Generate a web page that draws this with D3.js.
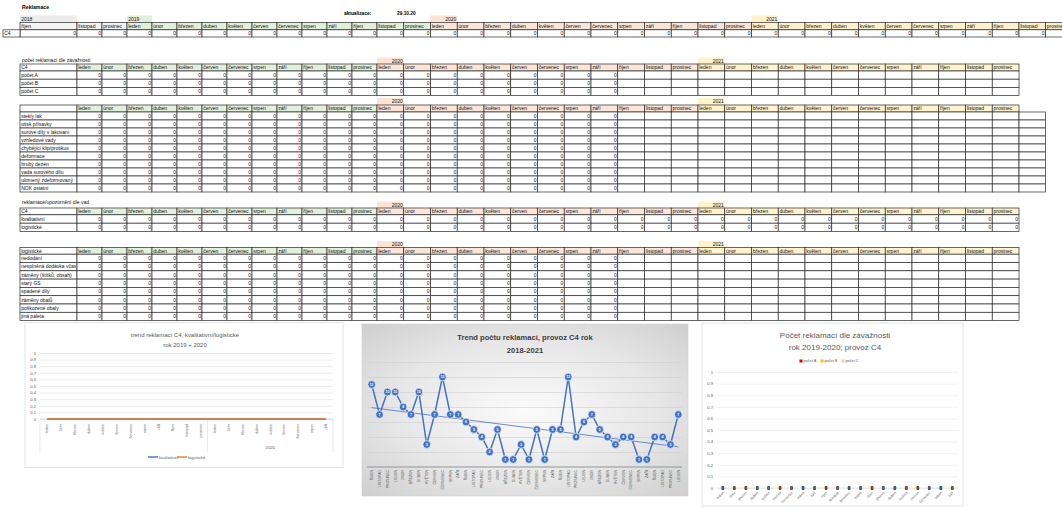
<!DOCTYPE html>
<html>
<head>
<meta charset="utf-8">
<script src="https://cdn.jsdelivr.net/npm/d3@7"></script>
<style>
body { margin: 0; background: #fff; }
svg { display: block; font-family: "Liberation Sans", Arial, sans-serif; }
</style>
</head>
<body>
<svg id="chart" width="1062" height="508"></svg>
<script>
// ---- data ----
var months = ["leden","únor","březen","duben","květen","červen","červenec","srpen","září","říjen","listopad","prosinec"];
var months2018 = ["říjen","listopad","prosinec"];
var years = ["2019","2020","2021"];
var updated = "29.10.20";

// top row C4: říjen 2018 .. prosinec 2021
var topValues = [0,0,0, 0,0,0,0,0,0,0,0,0,0,0,0, 0,0,0,0,0,0,0,0,0,0,0,0, 0,0,0,0,0,0,0,0,0,0,0,0];

var severityRows = ["počet A","počet B","počet C"];
var severityValues = [0,0,0,0,0,0,0,0,0,0,0,0, 0,0,0,0,0,0,0,0,0];   // leden 2019 .. září 2020

var defectRows = ["stekly lak","otisk přísavky","surové díly v lakovaní","vzhledové vady","chybějící klip/protikus",
                  "deformace","hrubý dezén","vada surového dílu","ulomený zdeformovaný","NOK ostatní"];
var defectValues = [0,0,0,0,0,0,0,0,0,0,0,0, 0,0,0,0,0,0,0,0,0];

var typeRows = ["kvalitativní","logistické"];
var typeValues = [0,0,0,0,0,0,0,0,0,0,0,0, 0,0,0,0,0,0,0,0,0,0,0,0, 0,0,0,0,0,0,0,0,0,0,0,0];

var logisticRows = ["nedodání","nesplněná dodávka včas","záměny (štítků, obsah)","starý GS","spadené díly",
                    "záměny obalů","poškozené obaly","jiná paleta"];
var logisticValues = [0,0,0,0,0,0,0,0,0,0,0,0, 0,0,0,0,0,0,0,0,0];

// chart 1 and 3: leden 2019 .. září 2020
var catMonths = ["leden","únor","březen","duben","květen","červen","červenec","srpen","září","říjen","listopad","prosinec",
                 "leden","únor","březen","duben","květen","červen","červenec","srpen","září"];
var kvalitativni = [0,0,0,0,0,0,0,0,0,0,0,0, 0,0,0,0,0,0,0,0,0];
var logisticke   = [0,0,0,0,0,0,0,0,0,0,0,0, 0,0,0,0,0,0,0,0,0];
var pocetA = [0,0,0,0,0,0,0,0,0,0,0,0, 0,0,0,0,0,0,0,0,0];
var pocetB = [0,0,0,0,0,0,0,0,0,0,0,0, 0,0,0,0,0,0,0,0,0];
var pocetC = [0,0,0,0,0,0,0,0,0,0,0,0, 0,0,0,0,0,0,0,0,0];
var ticks01 = [0,0.1,0.2,0.3,0.4,0.5,0.6,0.7,0.8,0.9,1];

// chart 2: říjen 2018 .. leden 2022
var trendLabels = ["ŘÍJEN","LISTOPAD","PROSINEC",
  "LEDEN","ÚNOR","BŘEZEN","DUBEN","KVĚTEN","ČERVEN","ČERVENEC","SRPEN","ZÁŘÍ","ŘÍJEN","LISTOPAD","PROSINEC",
  "LEDEN","ÚNOR","BŘEZEN","DUBEN","KVĚTEN","ČERVEN","ČERVENEC","SRPEN","ZÁŘÍ","ŘÍJEN","LISTOPAD","PROSINEC",
  "LEDEN","ÚNOR","BŘEZEN","DUBEN","KVĚTEN","ČERVEN","ČERVENEC","SRPEN","ZÁŘÍ","ŘÍJEN","LISTOPAD","PROSINEC",
  "LEDEN"];
var trendValues = [11,7,10,10,8,7,10,3,7,12,7,7,6,5,4,2,5,1,1,3,1,5,1,5,5,12,4,6,7,5,4,3,4,4,1,1,4,4,3,7];
var trendTicks = [2,4,6,8,10,12,14];

// ---- drawing ----
var svg = d3.select("#chart");
svg.append("rect").attr("width", 1062).attr("height", 508).attr("fill", "#fff");
var defs = svg.append("defs");
defs.append("clipPath").attr("id", "labelClip")
  .append("rect").attr("x", 20).attr("y", 0).attr("width", 56.3).attr("height", 330);

var FS = 5;
var LINE = "#2a2a2a";
var yearFill = {"2018": "#ececec", "2019": "#e2efda", "2020": "#fce4d6", "2021": "#fff2cc"};
// spreadsheet columns (index 0 = leden 2019 in the lower tables)
var col = d3.scaleLinear().domain([0, 12, 24, 36, 38]).range([77, 377, 698, 1019, 1072]);

var monthCols = [];
years.forEach(function(y, yi) {
  months.forEach(function(m, mi) { monthCols.push({name: m, year: y, i: yi * 12 + mi}); });
});

function box(g, x0, x1, y0, y1, fill, stroke) {
  return g.append("rect").attr("x", x0).attr("y", y0)
    .attr("width", x1 - x0).attr("height", y1 - y0)
    .attr("fill", fill).attr("stroke", stroke || "none").attr("stroke-width", 0.7);
}
function label(g, x0, x1, y0, y1, txt, align, clip) {
  var t = g.append("text").attr("y", (y0 + y1) / 2).attr("dy", "0.36em")
    .attr("font-size", FS).attr("fill", "#111").text(txt);
  if (align === "end") t.attr("x", x1 - 1).attr("text-anchor", "end");
  else t.attr("x", x0 + 1.2);
  if (clip) t.attr("clip-path", "url(#labelClip)");
  return t;
}

// top block
var topG = svg.append("g");
topG.append("text").attr("x", 22).attr("y", 9).attr("font-size", 5.2).attr("font-weight", "bold").text("Reklamace");
topG.append("text").attr("x", 344).attr("y", 15).attr("font-size", 4.8).attr("font-weight", "bold").text("aktualizace:");
topG.append("text").attr("x", 397).attr("y", 15).attr("font-size", 4.8).attr("font-weight", "bold").text(updated);

var topCols = [{name: months2018[0], year: "2018", x0: 20, x1: 77},
               {name: months2018[1], year: "2018", x0: col(0), x1: col(1)},
               {name: months2018[2], year: "2018", x0: col(1), x1: col(2)}];
monthCols.forEach(function(m) { topCols.push({name: m.name, year: m.year, x0: col(m.i + 2), x1: col(m.i + 3)}); });

var ty = [15.5, 22.5, 29.8, 37];
box(topG, 20, 77, ty[0], ty[1], yearFill["2018"]);
label(topG, 20, 77, ty[0], ty[1], "2018");
box(topG, col(2), col(3), ty[0], ty[1], yearFill["2019"]);
label(topG, col(2), col(3), ty[0], ty[1], "2019");
box(topG, col(14), col(15), ty[0], ty[1], yearFill["2020"]);
label(topG, col(14), col(15), ty[0], ty[1], "2020", "end");
box(topG, col(26), col(27), ty[0], ty[1], yearFill["2021"]);
label(topG, col(26), col(27), ty[0], ty[1], "2021", "end");
topCols.forEach(function(c, k) {
  box(topG, c.x0, c.x1, ty[1], ty[2], c.year === "2018" ? "#f4f4f4" : yearFill[c.year], LINE);
  label(topG, c.x0, c.x1, ty[1], ty[2], c.name);
  box(topG, c.x0, c.x1, ty[2], ty[3], "#fff", LINE);
  label(topG, c.x0, c.x1, ty[2], ty[3], topValues[k], "end");
});
box(topG, 3, 20, ty[2], ty[3], "#fff", LINE);
label(topG, 3, 20, ty[2], ty[3], "C4");

// lower tables
function monthTable(cfg) {
  var g = svg.append("g");
  if (cfg.title) g.append("text").attr("x", 22).attr("y", cfg.titleY).attr("font-size", FS).attr("fill", "#111").text(cfg.title);
  [["2020", 12], ["2021", 24]].forEach(function(p) {
    box(g, col(p[1]), col(p[1] + 1), cfg.yearY, cfg.headY, yearFill[p[0]]);
    label(g, col(p[1]), col(p[1] + 1), cfg.yearY, cfg.headY, p[0], "end");
  });
  var hy1 = cfg.headY + cfg.headH;
  box(g, 20, 77, cfg.headY, hy1, "#fff", LINE);
  label(g, 20, 77, cfg.headY, hy1, cfg.corner);
  monthCols.forEach(function(m) {
    box(g, col(m.i), col(m.i + 1), cfg.headY, hy1, yearFill[m.year], LINE);
    label(g, col(m.i), col(m.i + 1), cfg.headY, hy1, m.name);
  });
  var ry = d3.scaleLinear().domain([0, cfg.rows.length]).range([hy1, hy1 + cfg.rows.length * cfg.rowH]);
  var n = cfg.extra ? 37 : 36;
  cfg.rows.forEach(function(r, ri) {
    box(g, 20, 77, ry(ri), ry(ri + 1), "#fff", LINE);
    label(g, 20, 77, ry(ri), ry(ri + 1), r, "start", true);
    for (var k = 0; k < n; k++) {
      box(g, col(k), col(k + 1), ry(ri), ry(ri + 1), "#fff", LINE);
      if (k < cfg.values.length) label(g, col(k), col(k + 1), ry(ri), ry(ri + 1), cfg.values[k], "end");
    }
  });
}

monthTable({title: "počet reklamací dle závažnosti", titleY: 61.5, yearY: 57.5, headY: 64, headH: 7,
            corner: "C4", rows: severityRows, values: severityValues, rowH: 8.2});
monthTable({yearY: 98, headY: 105, headH: 7, corner: "",
            rows: defectRows, values: defectValues, rowH: 8, extra: true});
monthTable({title: "reklamace/upozornění dle vad", titleY: 204, yearY: 201.5, headY: 208, headH: 6.8,
            corner: "C4", rows: typeRows, values: typeValues, rowH: 8.4});
monthTable({yearY: 241, headY: 247.5, headH: 6.7, corner: "logistické",
            rows: logisticRows, values: logisticValues, rowH: 8.3});

var comma = function(d) { return String(d).replace(".", ","); };

// ---- chart 1: trend kvalitativní / logistické ----
var c1 = svg.append("g");
c1.append("rect").attr("x", 25).attr("y", 322.5).attr("width", 318).attr("height", 145)
  .attr("fill", "#fff").attr("stroke", "#d9d9d9").attr("stroke-width", 0.7);
c1.append("text").attr("x", 185).attr("y", 337).attr("text-anchor", "middle").attr("font-size", 6).attr("fill", "#595959")
  .text("trend reklamací C4, kvalitativní/logistické");
c1.append("text").attr("x", 185).attr("y", 346.5).attr("text-anchor", "middle").attr("font-size", 6).attr("fill", "#595959")
  .text("rok 2019 + 2020");
var x1 = d3.scaleBand().domain(d3.range(catMonths.length)).range([40, 333]);
var y1 = d3.scaleLinear().domain([0, 1]).range([419, 353]);
var a1 = c1.append("g").attr("transform", "translate(40,0)")
  .call(d3.axisLeft(y1).tickValues(ticks01).tickSize(-293).tickPadding(4).tickFormat(comma));
a1.select(".domain").remove();
a1.selectAll("line").attr("stroke", "#d9d9d9").attr("stroke-width", 0.5);
a1.selectAll("text").attr("font-size", 4.2).attr("fill", "#595959").attr("font-family", "Liberation Sans, Arial");
c1.append("line").attr("x1", 40).attr("x2", 333).attr("y1", y1(0)).attr("y2", y1(0)).attr("stroke", "#bfbfbf").attr("stroke-width", 0.6);
[0, 12, catMonths.length].forEach(function(i) {
  var x = i === catMonths.length ? 333 : x1(i);
  c1.append("line").attr("x1", x).attr("x2", x).attr("y1", y1(0)).attr("y2", 452).attr("stroke", "#d9d9d9").attr("stroke-width", 0.6);
});
c1.selectAll(".xl").data(catMonths).enter().append("text")
  .attr("transform", function(d, i) { return "translate(" + (x1(i) + x1.bandwidth() / 2 + 1.3) + ",424) rotate(-90)"; })
  .attr("text-anchor", "end").attr("font-size", 3.6).attr("fill", "#595959").text(function(d) { return d; });
c1.append("text").attr("x", (x1(12) + 333) / 2).attr("y", 449).attr("text-anchor", "middle")
  .attr("font-size", 4.2).attr("fill", "#595959").text("2020");
var line1 = d3.line().x(function(d, i) { return x1(i) + x1.bandwidth() / 2; }).y(function(d) { return y1(d); });
c1.append("path").datum(kvalitativni).attr("d", line1).attr("fill", "none").attr("stroke", "#4472c4").attr("stroke-width", 1.6);
c1.append("path").datum(logisticke).attr("d", line1).attr("fill", "none").attr("stroke", "#ed7d31").attr("stroke-width", 1.6);
var lg1 = c1.append("g");
[["kvalitativní", "#4472c4", 148], ["logistické", "#ed7d31", 177]].forEach(function(p) {
  lg1.append("line").attr("x1", p[2]).attr("x2", p[2] + 10).attr("y1", 457).attr("y2", 457).attr("stroke", p[1]).attr("stroke-width", 1.4);
  lg1.append("text").attr("x", p[2] + 11).attr("y", 458.5).attr("font-size", 4.2).attr("fill", "#595959").text(p[0]);
});

// ---- chart 2: trend počtu reklamací ----
var c2 = svg.append("g");
var grad = defs.append("radialGradient").attr("id", "bg2").attr("cx", "50%").attr("cy", "50%").attr("r", "75%");
grad.append("stop").attr("offset", "0%").attr("stop-color", "#fbfbfb");
grad.append("stop").attr("offset", "55%").attr("stop-color", "#e6e6e6");
grad.append("stop").attr("offset", "100%").attr("stop-color", "#cbcbcb");
c2.append("rect").attr("x", 362).attr("y", 324).attr("width", 326).attr("height", 172)
  .attr("fill", "url(#bg2)").attr("stroke", "#d0d0d0").attr("stroke-width", 0.6);
c2.append("text").attr("x", 525).attr("y", 340).attr("text-anchor", "middle").attr("font-size", 7.6)
  .attr("font-weight", "bold").attr("fill", "#404040").text("Trend počtu reklamací, provoz C4 rok");
c2.append("text").attr("x", 525).attr("y", 352.5).attr("text-anchor", "middle").attr("font-size", 7.6)
  .attr("font-weight", "bold").attr("fill", "#404040").text("2018-2021");
var x2 = d3.scalePoint().domain(d3.range(trendValues.length)).range([371.7, 678.3]);
var y2 = d3.scaleLinear().domain([0, 14]).range([467, 362]);
var a2 = c2.append("g").attr("transform", "translate(367,0)")
  .call(d3.axisLeft(y2).tickValues(trendTicks).tickSize(-315).tickFormat(""));
a2.select(".domain").remove();
a2.selectAll("line").attr("stroke", "#cfcfcf").attr("stroke-width", 0.6);
c2.append("line").attr("x1", 367).attr("x2", 682).attr("y1", y2(0)).attr("y2", y2(0)).attr("stroke", "#8c8c8c").attr("stroke-width", 0.9);
c2.selectAll(".xl").data(trendLabels).enter().append("text")
  .attr("transform", function(d, i) { return "translate(" + (x2(i) + 1.3) + ",470) rotate(-90)"; })
  .attr("text-anchor", "end").attr("font-size", 3.5).attr("fill", "#595959").text(function(d) { return d; });
// linear trend (least squares)
var xs = d3.range(1, trendValues.length + 1);
var mx = d3.mean(xs), myv = d3.mean(trendValues);
var slope = d3.sum(xs, function(x, i) { return (x - mx) * (trendValues[i] - myv); }) /
            d3.sum(xs, function(x) { return (x - mx) * (x - mx); });
var icpt = myv - slope * mx;
c2.append("line").attr("x1", x2(0)).attr("x2", x2(trendValues.length - 1))
  .attr("y1", y2(icpt + slope * 1)).attr("y2", y2(icpt + slope * trendValues.length))
  .attr("stroke", "#4472c4").attr("stroke-width", 0.8);
var line2 = d3.line().x(function(d, i) { return x2(i); }).y(function(d) { return y2(d); });
c2.append("path").datum(trendValues).attr("d", line2).attr("fill", "none").attr("stroke", "#4472c4").attr("stroke-width", 1.5);
var pts = c2.selectAll(".pt").data(trendValues).enter().append("g")
  .attr("transform", function(d, i) { return "translate(" + x2(i) + "," + y2(d) + ")"; });
pts.append("circle").attr("r", 3.9).attr("fill", "#4472c4").attr("stroke", "#fff").attr("stroke-width", 0.7);
pts.append("text").attr("text-anchor", "middle").attr("dy", "0.36em").attr("font-size", 3.6)
  .attr("font-weight", "bold").attr("fill", "#fff").text(function(d) { return d; });

// ---- chart 3: počet reklamací dle závažnosti ----
var c3 = svg.append("g");
c3.append("rect").attr("x", 702).attr("y", 323).attr("width", 261).attr("height", 183)
  .attr("fill", "#fff").attr("stroke", "#d9d9d9").attr("stroke-width", 0.7);
c3.append("text").attr("x", 835).attr("y", 338).attr("text-anchor", "middle").attr("font-size", 8).attr("fill", "#595959")
  .text("Počet reklamací dle závažnosti");
c3.append("text").attr("x", 835).attr("y", 350).attr("text-anchor", "middle").attr("font-size", 8).attr("fill", "#595959")
  .text("rok 2019-2020; provoz C4");
[["počet A", "#e00000", 801], ["počet B", "#ffc000", 822], ["počet C", "#f8cbad", 843]].forEach(function(p) {
  c3.append("rect").attr("x", p[2] - 1.5).attr("y", 359.5).attr("width", 3).attr("height", 3).attr("fill", p[1]);
  c3.append("text").attr("x", p[2] + 2.5).attr("y", 362.3).attr("font-size", 3.8).attr("fill", "#595959").text(p[0]);
});
var x3 = d3.scaleBand().domain(d3.range(catMonths.length)).range([717, 958]);
var y3 = d3.scaleLinear().domain([0, 1]).range([488, 372]);
var a3 = c3.append("g").attr("transform", "translate(717,0)")
  .call(d3.axisLeft(y3).tickValues(ticks01).tickSize(-241).tickPadding(4).tickFormat(comma));
a3.select(".domain").remove();
a3.selectAll("line").attr("stroke", "#e3e3e3").attr("stroke-width", 0.5);
a3.selectAll("text").attr("font-size", 4.2).attr("fill", "#595959").attr("font-family", "Liberation Sans, Arial");
c3.append("line").attr("x1", 717).attr("x2", 958).attr("y1", y3(0)).attr("y2", y3(0)).attr("stroke", "#d9d9d9").attr("stroke-width", 0.6);
[pocetA, pocetB, pocetC].forEach(function(series) {
  c3.selectAll(null).data(series).enter().append("text")
    .attr("x", function(d, i) { return x3(i) + x3.bandwidth() / 2; })
    .attr("y", function(d) { return y3(d); }).attr("dy", "0.36em")
    .attr("text-anchor", "middle").attr("font-size", 4.6).attr("font-weight", "bold").attr("fill", "#404040")
    .text(function(d) { return d; });
});
c3.selectAll(".xl").data(catMonths).enter().append("text")
  .attr("transform", function(d, i) { return "translate(" + (x3(i) + x3.bandwidth() / 2 + 1.5) + ",493) rotate(-45)"; })
  .attr("text-anchor", "end").attr("font-size", 3.6).attr("fill", "#595959").text(function(d) { return d; });
</script>
</body>
</html>
